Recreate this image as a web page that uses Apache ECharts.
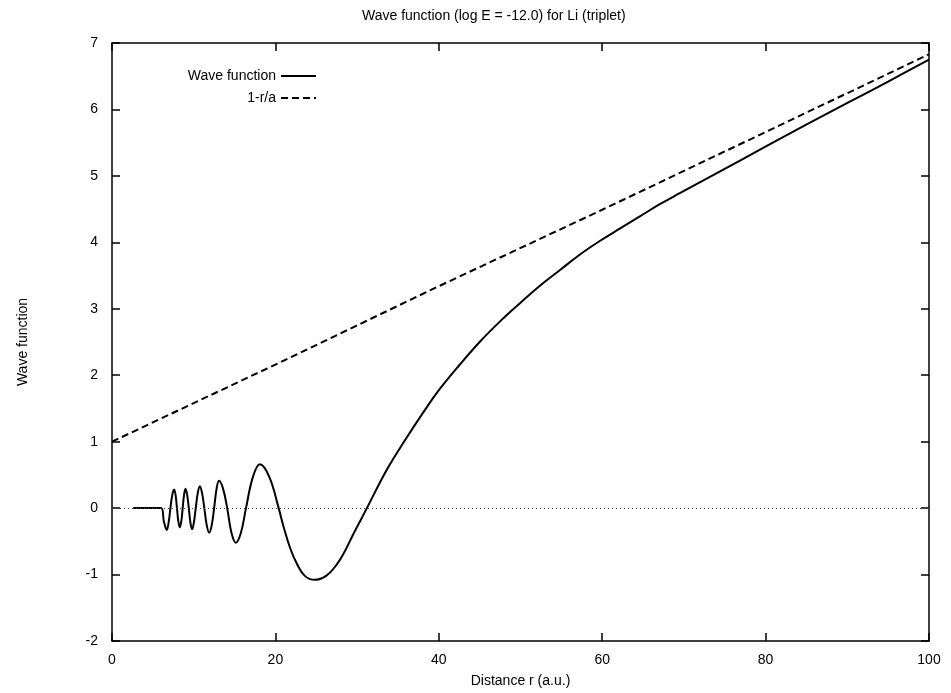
<!DOCTYPE html>
<html>
<head>
<meta charset="utf-8">
<script src="https://cdn.jsdelivr.net/npm/echarts@6/dist/echarts.min.js"></script>
<style>html,body{margin:0;padding:0;background:#fff;}#c{width:951px;height:693px;}</style>
</head>
<body>
<div id="c"></div>
<script>
// Wave function samples (r in a.u., value)
const waveR = [2.6, 4.0, 6.0, 6.35, 6.7, 6.95, 7.15, 7.38, 7.6, 7.78, 7.95, 8.12, 8.3, 8.48, 8.65, 8.82, 9.0, 9.2, 9.4, 9.6, 9.8, 10.02, 10.25, 10.5, 10.75, 11.02, 11.3, 11.6, 11.9, 12.2, 12.5, 12.8, 13.1, 13.6, 14.1, 14.62, 15.15, 15.78, 16.4, 17.25, 18.1, 19.25, 20.4, 21.0, 21.8, 22.6, 23.6, 24.8, 26.2, 27.5, 28.5, 29.5, 31.2, 33.6, 35.7, 38.1, 40.1, 42.5, 45.0, 47.5, 49.9, 52.3, 54.8, 57.2, 59.7, 62.2, 64.6, 67.0, 69.5, 74.6, 79.7, 84.8, 89.9, 95.0, 100];
const waveV = [0, 0, 0, -0.2, -0.33, -0.2, 0, 0.2, 0.28, 0.2, 0, -0.2, -0.29, -0.2, 0, 0.2, 0.29, 0.2, 0, -0.22, -0.32, -0.22, 0, 0.23, 0.33, 0.23, 0, -0.26, -0.37, -0.26, 0, 0.29, 0.41, 0.29, 0, -0.37, -0.52, -0.37, 0, 0.47, 0.66, 0.47, 0, -0.28, -0.6, -0.83, -1.02, -1.08, -1.02, -0.85, -0.65, -0.4, 0, 0.57, 0.99, 1.44, 1.79, 2.15, 2.50, 2.81, 3.08, 3.34, 3.58, 3.81, 4.02, 4.21, 4.39, 4.57, 4.74, 5.08, 5.42, 5.76, 6.09, 6.42, 6.75];
// 1-r/a line samples
const lineR = [0, 20, 40, 60, 80, 100];
const lineV = [1.0, 2.16, 3.34, 4.49, 5.66, 6.83];

const xTicks = [0, 20, 40, 60, 80, 100];
const yTicks = [-2, -1, 0, 1, 2, 3, 4, 5, 6, 7];

const titleText = 'Wave function (log E = -12.0) for Li (triplet)';
const xName = 'Distance r (a.u.)';
const yName = 'Wave function';
const names = ['Wave function', '1-r/a'];

const FONT = 'Liberation Sans, Arial, Helvetica, sans-serif';
const chart = echarts.init(document.getElementById('c'), null, {renderer: 'canvas'});

const axisLine = {show: true, onZero: false, lineStyle: {color: '#000', width: 1.5}};
const tickIn = {show: true, inside: true, length: 8, lineStyle: {color: '#000', width: 1.5}};
const legendBase = {
  orient: 'vertical', right: 629, align: 'right', itemWidth: 35, itemHeight: 10,
  itemStyle: {opacity: 0},
  textStyle: {fontFamily: FONT, fontSize: 14, color: '#000'}
};

chart.setOption({
  animation: false,
  backgroundColor: '#fff',
  title: {
    text: titleText,
    left: 357, top: 4,
    textStyle: {fontFamily: FONT, fontSize: 14, fontWeight: 'normal', color: '#000'}
  },
  legend: [
    Object.assign({}, legendBase, {data: [names[0]], top: 64}),
    Object.assign({}, legendBase, {data: [names[1]], top: 86})
  ],
  grid: {left: 112, right: 22, top: 43, bottom: 52, containLabel: false},
  xAxis: [
    {
      type: 'value', min: xTicks[0], max: xTicks[xTicks.length - 1], interval: 20,
      position: 'bottom',
      name: xName, nameLocation: 'middle', nameGap: 33,
      nameTextStyle: {fontFamily: FONT, fontSize: 14, color: '#000'},
      axisLine: axisLine, axisTick: tickIn,
      axisLabel: {fontFamily: FONT, fontSize: 14, color: '#000', margin: 12},
      splitLine: {show: false}
    },
    {
      type: 'value', min: xTicks[0], max: xTicks[xTicks.length - 1], interval: 20,
      position: 'top',
      axisLine: axisLine, axisTick: tickIn,
      axisLabel: {show: false}, splitLine: {show: false}
    }
  ],
  yAxis: [
    {
      type: 'value', min: yTicks[0], max: yTicks[yTicks.length - 1], interval: 1,
      position: 'left',
      name: yName, nameLocation: 'middle', nameGap: 82, nameRotate: 90,
      nameTextStyle: {fontFamily: FONT, fontSize: 14, color: '#000'},
      axisLine: axisLine, axisTick: tickIn,
      axisLabel: {fontFamily: FONT, fontSize: 14, color: '#000', margin: 14},
      splitLine: {show: false}
    },
    {
      type: 'value', min: yTicks[0], max: yTicks[yTicks.length - 1], interval: 1,
      position: 'right',
      axisLine: axisLine, axisTick: tickIn,
      axisLabel: {show: false}, splitLine: {show: false}
    }
  ],
  series: [
    {
      name: names[0], type: 'line',
      data: waveR.map((r, i) => [r, waveV[i]]),
      smooth: 0.4, symbol: 'none',
      lineStyle: {color: '#000', width: 2, type: 'solid'},
      itemStyle: {color: '#000'},
      markLine: {
        silent: true, symbol: 'none', label: {show: false},
        lineStyle: {color: '#444', width: 1, type: [1, 3]},
        data: [{yAxis: 0}]
      },
      z: 3
    },
    {
      name: names[1], type: 'line',
      data: lineR.map((r, i) => [r, lineV[i]]),
      symbol: 'none',
      lineStyle: {color: '#000', width: 2, type: [7, 4]},
      itemStyle: {color: '#000'},
      z: 3
    }
  ]
});
</script>
</body>
</html>
